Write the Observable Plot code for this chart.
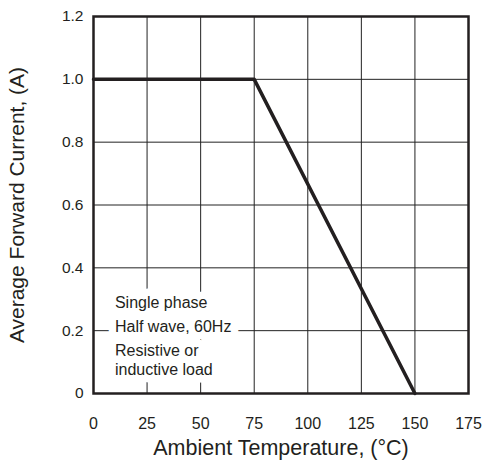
<!DOCTYPE html>
<html>
<head>
<meta charset="utf-8">
<script src="https://cdn.jsdelivr.net/npm/d3@7"></script>
<script src="https://cdn.jsdelivr.net/npm/@observablehq/plot@0.6"></script>
<style>
  html, body { margin: 0; padding: 0; background: #fff; }
</style>
</head>
<body>
<div id="chart"></div>
<script>
// Derating curve: ambient temperature (°C) vs average forward current (A)
const temperature = [0, 75, 150];
const current = [1.0, 1.0, 0.0];

const xTicks = [0, 25, 50, 75, 100, 125, 150, 175];
const yTicks = [0, 0.2, 0.4, 0.6, 0.8, 1.0, 1.2];

const xTitle = "Ambient Temperature, (°C)";
const yTitle = "Average Forward Current, (A)";

const noteLines = ["Single phase", "Half wave, 60Hz", "Resistive or", "inductive load"];
const noteX = [10, 10, 10, 10];
const noteY = [0.287, 0.211, 0.137, 0.076];

const curve = temperature.map((t, i) => ({t, a: current[i]}));
const notes = noteLines.map((s, i) => ({s, x: noteX[i], y: noteY[i]}));

const ink = "#231f20";

const chart = Plot.plot({
  width: 484,
  height: 468,
  marginLeft: 93,
  marginRight: 16,
  marginTop: 16,
  marginBottom: 75,
  style: {fontFamily: "'Liberation Sans', Arial, sans-serif", color: ink, background: "#fff"},
  x: {domain: [0, 175]},
  y: {domain: [0, 1.2]},
  marks: [
    Plot.gridX(xTicks, {stroke: "#222", strokeOpacity: 1, strokeWidth: 1}),
    Plot.gridY(yTicks, {stroke: "#222", strokeOpacity: 1, strokeWidth: 1}),
    Plot.text(notes, {x: "x", y: "y", text: "s", textAnchor: "start", fontSize: 16,
      fill: ink, stroke: "white", strokeWidth: 15, strokeLinejoin: "round", paintOrder: "stroke"}),
    Plot.axisX(xTicks, {tickSize: 0, tickPadding: 24, fontSize: 16, label: null, tickFormat: d => String(d)}),
    Plot.axisY(yTicks, {tickSize: 0, tickPadding: 10, fontSize: 15.5, label: null,
      tickFormat: d => d === 0 ? "0" : d.toFixed(1)}),
    Plot.text([xTitle], {frameAnchor: "bottom", dy: 55, lineAnchor: "middle", fontSize: 21.5, fill: ink}),
    Plot.text([yTitle], {frameAnchor: "left", dx: -76, rotate: -90, textAnchor: "middle", lineAnchor: "middle", fontSize: 21, fill: ink}),
    Plot.line(curve, {x: "t", y: "a", stroke: ink, strokeWidth: 3.5}),
    Plot.frame({stroke: ink, strokeWidth: 2.5})
  ]
});

document.getElementById("chart").appendChild(chart);
</script>
</body>
</html>
